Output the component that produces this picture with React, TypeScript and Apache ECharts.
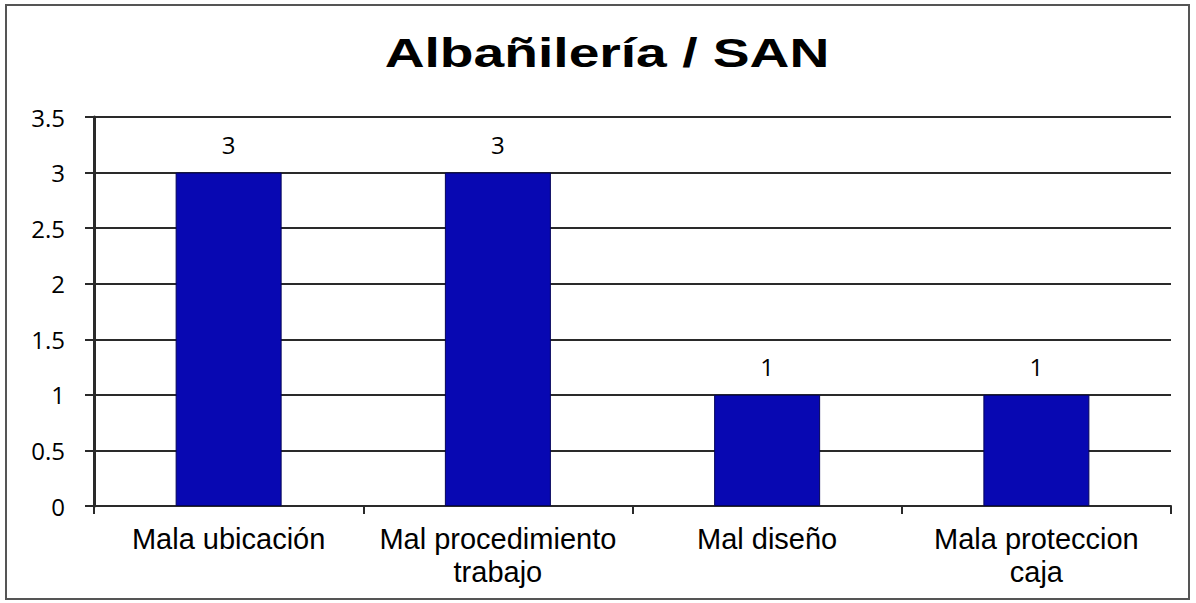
import React, { useEffect, useRef } from "react";
import * as echarts from "echarts";

const categories = ["Mala ubicación", "Mal procedimiento\ntrabajo", "Mal diseño", "Mala proteccion\ncaja"];
const values = [3, 3, 1, 1];
const titleText = "Albañilería / SAN";

export default function App() {
  const ref = useRef<HTMLDivElement>(null);
  useEffect(() => {
    const chart = echarts.init(ref.current!, null, { renderer: "svg" });
    chart.setOption({
      animation: false,
      backgroundColor: "#fff",
      grid: { left: 94, right: 25, top: 117, bottom: 97, containLabel: false },
      xAxis: {
        type: "category",
        data: categories,
        axisLine: { show: true, lineStyle: { color: "#2a2a2a", width: 2 } },
        axisTick: { show: true, length: 8, lineStyle: { color: "#2a2a2a", width: 2 } },
        axisLabel: { interval: 0, fontFamily: "Liberation Sans", fontSize: 29, color: "#000", margin: 16, lineHeight: 33 },
      },
      yAxis: {
        type: "value",
        min: 0,
        max: 3.5,
        interval: 0.5,
        axisLine: { show: true, lineStyle: { color: "#2a2a2a", width: 3 } },
        axisTick: { show: true, length: 9, lineStyle: { color: "#2a2a2a", width: 2 } },
        axisLabel: { fontFamily: "Open Sans", fontSize: 24, color: "#000", margin: 29 },
        splitLine: { show: true, lineStyle: { color: "#2a2a2a", width: 2 } },
      },
      series: [
        {
          type: "bar",
          data: values,
          barWidth: 106,
          itemStyle: { color: "#0808b2", borderColor: "#04045a", borderWidth: 1 },
          label: { show: true, position: "top", distance: 16, fontFamily: "Open Sans", fontSize: 24, color: "#000" },
        },
      ],
      graphic: [
        {
          type: "rect",
          shape: { x: 6, y: 5, width: 1183, height: 594 },
          style: { fill: "none", stroke: "#555", lineWidth: 2 },
          silent: true,
        },
        {
          type: "text",
          x: 607,
          y: 33,
          scaleX: 1.38,
          scaleY: 1,
          style: {
            text: titleText,
            fontFamily: "Liberation Sans",
            fontWeight: "bold",
            fontSize: 40,
            fill: "#000",
            textAlign: "center",
            textVerticalAlign: "top",
          },
          silent: true,
        },
      ],
    });
    return () => chart.dispose();
  }, []);
  return <div ref={ref} style={{ width: 1196, height: 603, position: "absolute", left: 0, top: 0 }} />;
}
